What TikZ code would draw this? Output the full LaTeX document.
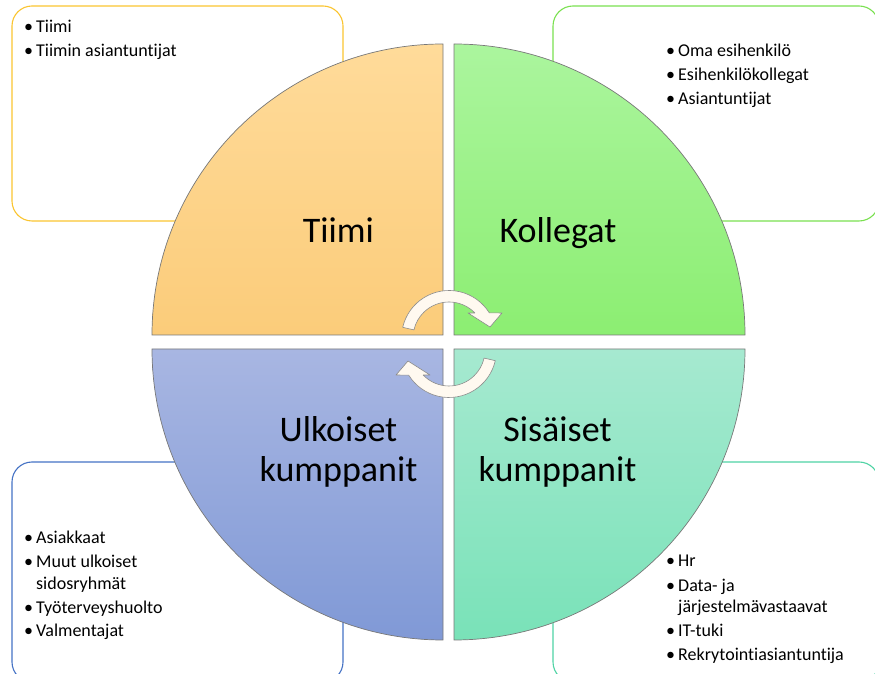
\documentclass[tikz,border=0pt]{standalone}
\usepackage{fontspec}
\setmainfont{Carlito}[RawFeature={-liga;-clig;-dlig;-calt}]
\definecolor{orTop}{RGB}{255,219,154}
\definecolor{orBot}{RGB}{251,204,122}
\definecolor{grTop}{RGB}{171,245,158}
\definecolor{grBot}{RGB}{140,238,114}
\definecolor{blTop}{RGB}{168,182,226}
\definecolor{blBot}{RGB}{128,153,214}
\definecolor{teTop}{RGB}{166,233,208}
\definecolor{teBot}{RGB}{121,226,184}
\definecolor{boxOr}{RGB}{250,196,48}
\definecolor{boxGr}{RGB}{122,224,80}
\definecolor{boxBl}{RGB}{68,114,196}
\definecolor{boxTe}{RGB}{79,211,164}
\definecolor{arrFill}{RGB}{255,249,240}
\definecolor{edgeGray}{RGB}{120,120,120}
\tikzset{
  listbox/.style={rounded corners=20pt, line width=1.1pt},
  quad/.style={draw=edgeGray, line width=0.7pt},
  itm/.style={anchor=base west, inner sep=0pt, font=\fontsize{18}{24}\selectfont},
  big/.style={anchor=base, inner sep=0pt, font=\fontsize{36}{40}\selectfont},
  cyclearrow/.style={fill=arrFill, draw=black!45, line width=0.6pt, line join=round},
}
\newcommand{\bul}{\llap{•\hspace{3pt}}}
\begin{document}
\begin{tikzpicture}[x=1pt,y=1pt]
\useasboundingbox (0,0) rectangle (875,674);
\clip (0,0) rectangle (875,674);
% list boxes
\draw[listbox, draw=boxOr] (12,453) rectangle (343,668);
\draw[listbox, draw=boxGr] (553,453) rectangle (879,668);
\draw[listbox, draw=boxBl] (12,-8) rectangle (343,212);
\draw[listbox, draw=boxTe] (553,-8) rectangle (879,212);
% quadrant centres
\coordinate (cTL) at (443,339);
\coordinate (cTR) at (454,339);
\coordinate (cBL) at (443,325);
\coordinate (cBR) at (454,325);
% quadrants
\shade[top color=orTop, bottom color=orBot] (cTL) -- ++(180:291) arc[start angle=180, end angle=90, radius=291] -- cycle;
\draw[quad] (cTL) -- ++(180:291) arc[start angle=180, end angle=90, radius=291] -- cycle;
\shade[top color=grTop, bottom color=grBot] (cTR) -- ++(0:291) arc[start angle=0, end angle=90, radius=291] -- cycle;
\draw[quad] (cTR) -- ++(0:291) arc[start angle=0, end angle=90, radius=291] -- cycle;
\shade[top color=blTop, bottom color=blBot] (cBL) -- ++(180:291) arc[start angle=180, end angle=270, radius=291] -- cycle;
\draw[quad] (cBL) -- ++(180:291) arc[start angle=180, end angle=270, radius=291] -- cycle;
\shade[top color=teTop, bottom color=teBot] (cBR) -- ++(0:291) arc[start angle=0, end angle=-90, radius=291] -- cycle;
\draw[quad] (cBR) -- ++(0:291) arc[start angle=0, end angle=-90, radius=291] -- cycle;
% big labels
\node[big] (tiimi) at (338.5,431) {Tiimi};
\node[big] (kollegat) at (558,431) {Kollegat};
\node[big] (ulk1) at (338.5,232) {Ulkoiset};
\node[big] (ulk2) at (338.5,192) {kumppanit};
\node[big] (sis1) at (557.5,232) {Sisäiset};
\node[big] (sis2) at (557.5,192) {kumppanit};
% cycle arrows
\begin{scope}[shift={(449,336)}]
\path[cyclearrow] (167:36) -- (167:47.5) arc[start angle=167, end angle=32, radius=47.5]
  -- (53,25) -- (41,11) -- (19,25) -- (44:36) arc[start angle=44, end angle=167, radius=36] -- cycle;
\end{scope}
\begin{scope}[shift={(449,324)}, rotate=180]
\path[cyclearrow] (167:36) -- (167:47.5) arc[start angle=167, end angle=32, radius=47.5]
  -- (53,25) -- (41,11) -- (19,25) -- (44:36) arc[start angle=44, end angle=167, radius=36] -- cycle;
\end{scope}
% lists
\node[itm] (tl1) at (36,641) {\bul Tiimi};
\node[itm] (tl2) at (36,617) {\bul Tiimin asiantuntijat};
\node[itm] (tr1) at (678,617) {\bul Oma esihenkilö};
\node[itm] (tr2) at (678,593) {\bul Esihenkilökollegat};
\node[itm] (tr3) at (678,569) {\bul Asiantuntijat};
\node[itm] (bl1) at (36,130) {\bul Asiakkaat};
\node[itm] (bl2) at (36,106) {\bul Muut ulkoiset};
\node[itm] (bl2b) at (36,84) {sidosryhmät};
\node[itm] (bl3) at (36,60) {\bul Työterveyshuolto};
\node[itm] (bl4) at (36,37) {\bul Valmentajat};
\node[itm] (br1) at (678,107) {\bul Hr};
\node[itm] (br2) at (678,82) {\bul Data- ja};
\node[itm] (br2b) at (678,61) {järjestelmävastaavat};
\node[itm] (br3) at (678,37) {\bul IT-tuki};
\node[itm] (br4) at (678,13) {\bul Rekrytointiasiantuntija};
\end{tikzpicture}
\end{document}
